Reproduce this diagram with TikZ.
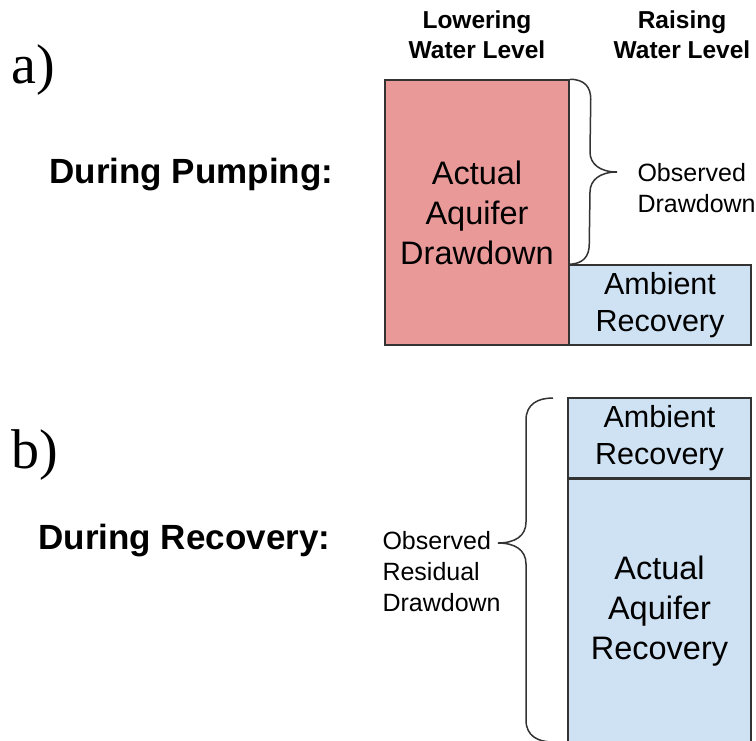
\documentclass[tikz,border=0pt]{standalone}
\usepackage{fontspec}
\setmainfont{Liberation Sans}
\newfontfamily\serifabc{Liberation Serif}
\usetikzlibrary{calc}
\definecolor{redfill}{HTML}{EA9999}
\definecolor{bluefill}{HTML}{CFE2F3}
\definecolor{edge}{HTML}{333333}
\begin{document}
\begin{tikzpicture}[x=1pt,y=-1pt,
  box/.style={draw=edge,line width=1.5pt,inner sep=0pt,align=center,
    font=\fontsize{32.5}{40}\selectfont},
  ambient/.style={font=\fontsize{30.5}{37.5}\selectfont},
  header/.style={align=center,font=\fontsize{24.5}{30}\selectfont\bfseries},
  stage/.style={anchor=west,font=\fontsize{35}{40}\selectfont\bfseries},
  letter/.style={anchor=west,font=\fontsize{56}{60}\selectfont\serifabc},
  small/.style={align=left,font=\fontsize{25}{31}\selectfont},
  bracepath/.style={draw=edge,line width=1.5pt}]
\useasboundingbox (0,0) rectangle (756,740);
% headers
\node[header] (hl) at (477,35) {Lowering\\Water Level};
\node[header] (hr) at (682,35) {Raising\\Water Level};
% labels
\node[letter] (la) at (8,70) {a)};
\node[letter] (lb) at (8,455) {b)};
\node[stage] (sp) at (46,175) {During Pumping:};
\node[stage] (sr) at (35,541) {During Recovery:};
% panel a
\node[box,fill=redfill,minimum width=184pt,minimum height=265pt] (red) at (477,212.5) {Actual\\Aquifer\\Drawdown};
\node[box,ambient,fill=bluefill,minimum width=182pt,minimum height=80pt] (amba) at (660,305) {Ambient\\Recovery};
\node[small,anchor=west] (obsa) at (634,188) {Observed\\Drawdown};
\draw[bracepath] (red.north east) .. controls ($(red.north east)+(15,0)$) and ($(red.north east)+(21,8)$) .. ($(red.north east)+(21,20)$)
  -- (590,152) .. controls (590,164) and (600,172) .. (617,172)
  .. controls (600,172) and (590,180) .. (590,192)
  -- ($(amba.north west)+(21,-20)$) .. controls ($(amba.north west)+(21,-8)$) and ($(amba.north west)+(15,0)$) .. (amba.north west);
% panel b
\node[box,ambient,fill=bluefill,minimum width=183pt,minimum height=80pt] (ambb) at (659.5,438) {Ambient\\Recovery};
\node[box,fill=bluefill,minimum width=183pt,minimum height=270pt,anchor=north] (actb) at (ambb.south) {};
\node[align=center,font=\fontsize{32.5}{40}\selectfont] (actbt) at (659.5,611) {Actual\\Aquifer\\Recovery};
\node[small,anchor=west] (obsb) at (379,572) {Observed\\Residual\\Drawdown};
\coordinate (bt) at (553,398);
\coordinate (bb) at (553,742);
\draw[bracepath] (bt) .. controls (538,398) and (526,404) .. (526,420)
  -- (526,522) .. controls (526,536) and (515,543) .. (498,543)
  .. controls (515,543) and (526,550) .. (526,564)
  -- (526,720) .. controls (526,736) and (538,742) .. (bb);
\end{tikzpicture}
\end{document}
